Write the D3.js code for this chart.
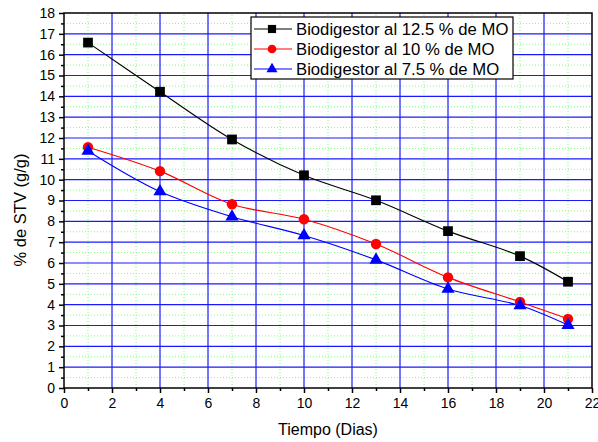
<!DOCTYPE html>
<html lang="es">
<head>
    <meta charset="UTF-8">
    <title>% de STV vs Tiempo</title>
    <script src="https://d3js.org/d3.v7.min.js"></script>
    <style>
        body { margin: 0; background: #fff; font-family: "Liberation Sans", Arial, sans-serif; }
        svg { display: block; }
        .tick text { font-family: "Liberation Sans", Arial, sans-serif; font-size: 14px; fill: #000; }
    </style>
</head>
<body>
    <svg id="chart" width="598" height="442"></svg>
    <script>
        // data
        const dias = [1, 4, 7, 10, 13, 16, 19, 21];
        const stv125 = [16.58, 14.22, 11.93, 10.21, 9.01, 7.53, 6.33, 5.1];
        const stv10 = [11.56, 10.41, 8.82, 8.1, 6.91, 5.31, 4.13, 3.32];
        const stv75 = [11.38, 9.43, 8.22, 7.32, 6.15, 4.75, 3.96, 3.02];
        const seriesNames = ["Biodigestor al 12.5 % de MO", "Biodigestor al 10 % de MO", "Biodigestor al 7.5 % de MO"];
        const xTicks = d3.range(0, 23, 2);
        const yTicks = d3.range(0, 19, 1);

        const margin = { top: 13, right: 6, bottom: 54, left: 64 };
        const width = 598, height = 442;
        const svg = d3.select("#chart");

        const x = d3.scaleLinear().domain([0, 22]).range([margin.left, width - margin.right]);
        const y = d3.scaleLinear().domain([0, 18]).range([height - margin.bottom, margin.top]);

        const series = [
            { name: seriesNames[0], values: stv125, color: "#000000", symbol: d3.symbolSquare, size: 95 },
            { name: seriesNames[1], values: stv10, color: "#ff0000", symbol: d3.symbolCircle, size: 85 },
            { name: seriesNames[2], values: stv75, color: "#0000ff", symbol: d3.symbolTriangle, size: 75 }
        ];

        // minor grid (dotted green)
        const g = svg.append("g");
        g.selectAll(".xminor").data(d3.range(1, 22, 2)).enter().append("line")
            .attr("x1", d => x(d)).attr("x2", d => x(d))
            .attr("y1", y(0)).attr("y2", y(18))
            .attr("stroke", "#7dff7d").attr("stroke-dasharray", "1,2");
        g.selectAll(".yminor").data(d3.range(0.5, 18, 1)).enter().append("line")
            .attr("x1", x(0)).attr("x2", x(22))
            .attr("y1", d => y(d)).attr("y2", d => y(d))
            .attr("stroke", "#7dff7d").attr("stroke-dasharray", "1,2");

        // major grid (blue)
        g.selectAll(".xmajor").data(xTicks.slice(1, -1)).enter().append("line")
            .attr("x1", d => x(d)).attr("x2", d => x(d))
            .attr("y1", y(0)).attr("y2", y(18))
            .attr("stroke", "#1a1aff").attr("stroke-width", 1.2);
        g.selectAll(".ymajor").data(yTicks.slice(1, -1)).enter().append("line")
            .attr("x1", x(0)).attr("x2", x(22))
            .attr("y1", d => y(d)).attr("y2", d => y(d))
            .attr("stroke", "#1a1aff").attr("stroke-width", 1.2);

        // axes
        svg.append("g").attr("transform", `translate(0,${y(0)})`)
            .call(d3.axisBottom(x).tickValues(xTicks).tickSize(5).tickPadding(5).tickFormat(d3.format("d")));
        svg.append("g").attr("transform", `translate(0,${y(0)})`)
            .call(d3.axisBottom(x).tickValues(d3.range(1, 22, 2)).tickSize(3).tickFormat(""));
        svg.append("g").attr("transform", `translate(${x(0)},0)`)
            .call(d3.axisLeft(y).tickValues(yTicks).tickSize(5).tickPadding(4).tickFormat(d3.format("d")));
        svg.append("g").attr("transform", `translate(${x(0)},0)`)
            .call(d3.axisLeft(y).tickValues(d3.range(0.5, 18, 1)).tickSize(3).tickFormat(""));
        svg.selectAll(".domain").remove();
        svg.selectAll(".tick line").attr("stroke", "#000").attr("stroke-width", 1.5);

        // frame
        svg.append("rect")
            .attr("x", x(0)).attr("y", y(18))
            .attr("width", x(22) - x(0)).attr("height", y(0) - y(18))
            .attr("fill", "none").attr("stroke", "#000").attr("stroke-width", 1.5);

        // lines + markers
        const line = d3.line().curve(d3.curveCatmullRom.alpha(0.5))
            .x((d, i) => x(dias[i])).y(d => y(d));
        series.forEach(s => {
            svg.append("path").datum(s.values)
                .attr("d", line).attr("fill", "none")
                .attr("stroke", s.color).attr("stroke-width", 1.1);
        });
        series.forEach(s => {
            svg.selectAll(null).data(s.values).enter().append("path")
                .attr("d", d3.symbol().type(s.symbol).size(s.size))
                .attr("transform", (d, i) => `translate(${x(dias[i])},${y(d)})`)
                .attr("fill", s.color);
        });

        // axis titles
        svg.append("text")
            .attr("x", (x(0) + x(22)) / 2).attr("y", 435)
            .attr("text-anchor", "middle").attr("font-size", 16)
            .text("Tiempo (Dias)");
        svg.append("text")
            .attr("transform", "translate(26,210) rotate(-90)")
            .attr("text-anchor", "middle").attr("font-size", 16.5)
            .text("% de STV (g/g)");

        // legend
        const legend = svg.append("g").attr("transform", "translate(251,17)");
        legend.append("rect").attr("width", 262).attr("height", 62)
            .attr("fill", "#fff").attr("stroke", "#000").attr("stroke-width", 1.2);
        series.forEach((s, i) => {
            const row = legend.append("g").attr("transform", `translate(0,${12 + i * 20})`);
            row.append("line").attr("x1", 3).attr("x2", 41)
                .attr("stroke", s.color).attr("stroke-width", 1.1);
            row.append("path")
                .attr("d", d3.symbol().type(s.symbol).size(s.size * 0.7))
                .attr("transform", "translate(21,0)").attr("fill", s.color);
            row.append("text").attr("x", 45).attr("y", 6)
                .attr("font-size", 16.7).text(s.name);
        });
    </script>
</body>
</html>
